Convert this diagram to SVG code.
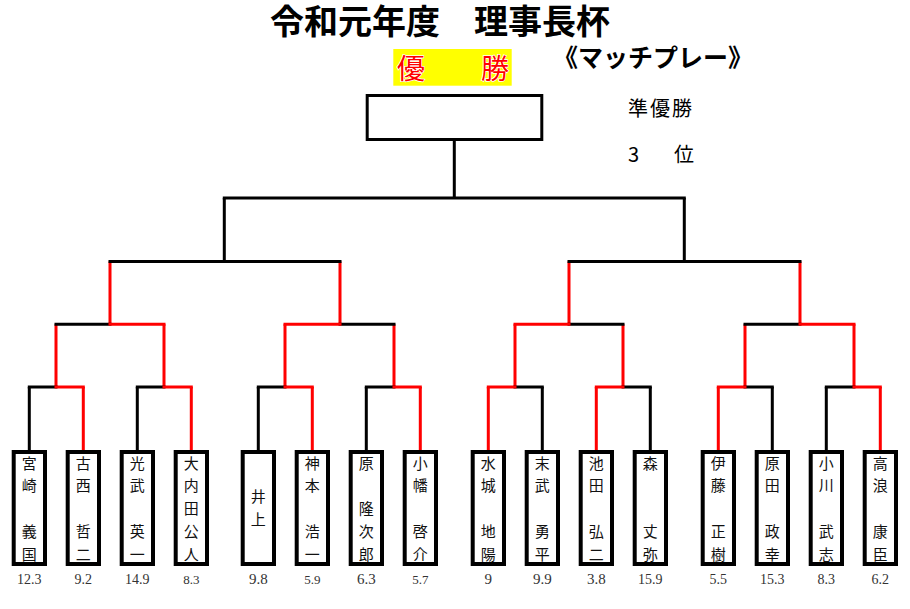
<svg xmlns="http://www.w3.org/2000/svg" width="910" height="609" viewBox="0 0 910 609">
<style>
.b{stroke:#000;stroke-width:3;fill:none}
.r{stroke:#f00;stroke-width:3;fill:none}
.h{stroke-linecap:square}
.pbox{fill:#fff;stroke:#000;stroke-width:4}
.name{font-family:"Noto Sans CJK JP","Noto Sans CJK SC",sans-serif;font-size:15px;text-anchor:middle;fill:#111}
.sc{font-family:"Liberation Serif",serif;font-size:14px;text-anchor:middle;fill:#333}
.sm{font-size:13px}
.lg{font-size:15px}
.jp{font-family:"Noto Sans CJK JP","Noto Sans CJK SC",sans-serif}
</style>
<rect width="910" height="609" fill="#fff"/>
<g id="title">
<text class="jp" x="270" y="33.5" font-size="34" font-weight="bold" fill="#000">令和元年度　理事長杯</text>
<text class="jp" x="653" y="66.5" font-size="25" font-weight="bold" text-anchor="middle" fill="#000">《マッチプレー》</text>
</g>
<g id="champion-label">
<rect x="393.3" y="49" width="118.4" height="36.7" fill="#ff0"/>
<text class="jp" x="397" y="79" font-size="28" fill="#f00" stroke="#fff" stroke-width="1.5" paint-order="stroke">優　　勝</text>
</g>
<g id="champion">
<rect x="367.2" y="95.5" width="174.6" height="44" fill="#fff" stroke="#000" stroke-width="3"/>
</g>
<g id="runner-up">
<text class="jp" x="628" y="116" font-size="20" letter-spacing="2" fill="#000">準優勝</text>
</g>
<g id="third">
<text class="jp" x="628" y="161.5" font-size="20" fill="#000">3<tspan letter-spacing="-2.6">　　</tspan>位</text>
</g>
<g id="connectors">
<path class="b" d="M454.3 141V198M224.3 198V261.5M684.3 198V261.5"/>
<path class="r" d="M110 261.5V324.3M340 261.5V324.3M569 261.5V324.3M800 261.5V324.3"/>
<path class="r" d="M56 324.3V387M164 324.3V387M285 324.3V387M394 324.3V387M515 324.3V387M623 324.3V387M745 324.3V387M854 324.3V387"/>
<path class="b" d="M29.3 387V450M137.3 387V450M258.3 387V450M366.3 387V450M542.3 387V450M650.3 387V450M772.3 387V450M826.3 387V450"/>
<path class="r" d="M83.3 387V450M191.3 387V450M312.3 387V450M420.3 387V450M488.3 387V450M596.3 387V450M718.3 387V450M880.3 387V450"/>
<path class="b h" d="M224.3 198H684.3"/>
<path class="b h" d="M110 261.5H340M569 261.5H800"/>
<path class="b h" d="M56 324.3H110M340 324.3H394M569 324.3H623M745 324.3H800"/>
<path class="r h" d="M110 324.3H164M285 324.3H340M515 324.3H569M800 324.3H854"/>
<path class="b h" d="M29.3 387H56M137.3 387H164M258.3 387H285M366.3 387H394M515 387H542.3M623 387H650.3M745 387H772.3M826.3 387H854"/>
<path class="r h" d="M56 387H83.3M164 387H191.3M285 387H312.3M394 387H420.3M488.3 387H515M596.3 387H623M718.3 387H745M854 387H880.3"/>
</g>
<g id="p1"><rect class="pbox" x="13.7" y="452" width="31.3" height="112"/><text class="name"><tspan x="29.3" y="468.5">宮</tspan><tspan x="29.3" y="491.4">崎</tspan><tspan x="29.3" y="514.2">　</tspan><tspan x="29.3" y="537">義</tspan><tspan x="29.3" y="559.9">国</tspan></text><text class="sc" x="29.3" y="584">12.3</text></g>
<g id="p2"><rect class="pbox" x="67.7" y="452" width="31.3" height="112"/><text class="name"><tspan x="83.3" y="468.5">古</tspan><tspan x="83.3" y="491.4">西</tspan><tspan x="83.3" y="514.2">　</tspan><tspan x="83.3" y="537">哲</tspan><tspan x="83.3" y="559.9">二</tspan></text><text class="sc" x="83.3" y="584">9.2</text></g>
<g id="p3"><rect class="pbox" x="121.7" y="452" width="31.3" height="112"/><text class="name"><tspan x="137.3" y="468.5">光</tspan><tspan x="137.3" y="491.4">武</tspan><tspan x="137.3" y="514.2">　</tspan><tspan x="137.3" y="537">英</tspan><tspan x="137.3" y="559.9">一</tspan></text><text class="sc" x="137.3" y="584">14.9</text></g>
<g id="p4"><rect class="pbox" x="175.7" y="452" width="31.3" height="112"/><text class="name"><tspan x="191.3" y="468.5">大</tspan><tspan x="191.3" y="491.4">内</tspan><tspan x="191.3" y="514.2">田</tspan><tspan x="191.3" y="537">公</tspan><tspan x="191.3" y="559.9">人</tspan></text><text class="sc sm" x="191.3" y="584">8.3</text></g>
<g id="p5"><rect class="pbox" x="242.7" y="452" width="31.3" height="112"/><text class="name"><tspan x="258.3" y="502.4">井</tspan><tspan x="258.3" y="524.9">上</tspan></text><text class="sc lg" x="258.3" y="584">9.8</text></g>
<g id="p6"><rect class="pbox" x="296.7" y="452" width="31.3" height="112"/><text class="name"><tspan x="312.3" y="468.5">神</tspan><tspan x="312.3" y="491.4">本</tspan><tspan x="312.3" y="514.2">　</tspan><tspan x="312.3" y="537">浩</tspan><tspan x="312.3" y="559.9">一</tspan></text><text class="sc sm" x="312.3" y="584">5.9</text></g>
<g id="p7"><rect class="pbox" x="350.7" y="452" width="31.3" height="112"/><text class="name"><tspan x="366.3" y="468.5">原</tspan><tspan x="366.3" y="491.4">　</tspan><tspan x="366.3" y="514.2">隆</tspan><tspan x="366.3" y="537">次</tspan><tspan x="366.3" y="559.9">郎</tspan></text><text class="sc lg" x="366.3" y="584">6.3</text></g>
<g id="p8"><rect class="pbox" x="404.7" y="452" width="31.3" height="112"/><text class="name"><tspan x="420.3" y="468.5">小</tspan><tspan x="420.3" y="491.4">幡</tspan><tspan x="420.3" y="514.2">　</tspan><tspan x="420.3" y="537">啓</tspan><tspan x="420.3" y="559.9">介</tspan></text><text class="sc sm" x="420.3" y="584">5.7</text></g>
<g id="p9"><rect class="pbox" x="472.7" y="452" width="31.3" height="112"/><text class="name"><tspan x="488.3" y="468.5">水</tspan><tspan x="488.3" y="491.4">城</tspan><tspan x="488.3" y="514.2">　</tspan><tspan x="488.3" y="537">地</tspan><tspan x="488.3" y="559.9">陽</tspan></text><text class="sc lg" x="488.3" y="584">9</text></g>
<g id="p10"><rect class="pbox" x="526.7" y="452" width="31.3" height="112"/><text class="name"><tspan x="542.3" y="468.5">末</tspan><tspan x="542.3" y="491.4">武</tspan><tspan x="542.3" y="514.2">　</tspan><tspan x="542.3" y="537">勇</tspan><tspan x="542.3" y="559.9">平</tspan></text><text class="sc lg" x="542.3" y="584">9.9</text></g>
<g id="p11"><rect class="pbox" x="580.7" y="452" width="31.3" height="112"/><text class="name"><tspan x="596.3" y="468.5">池</tspan><tspan x="596.3" y="491.4">田</tspan><tspan x="596.3" y="514.2">　</tspan><tspan x="596.3" y="537">弘</tspan><tspan x="596.3" y="559.9">二</tspan></text><text class="sc lg" x="596.3" y="584">3.8</text></g>
<g id="p12"><rect class="pbox" x="634.7" y="452" width="31.3" height="112"/><text class="name"><tspan x="650.3" y="468.5">森</tspan><tspan x="650.3" y="491.4">　</tspan><tspan x="650.3" y="514.2">　</tspan><tspan x="650.3" y="537">丈</tspan><tspan x="650.3" y="559.9">弥</tspan></text><text class="sc" x="650.3" y="584">15.9</text></g>
<g id="p13"><rect class="pbox" x="702.7" y="452" width="31.3" height="112"/><text class="name"><tspan x="718.3" y="468.5">伊</tspan><tspan x="718.3" y="491.4">藤</tspan><tspan x="718.3" y="514.2">　</tspan><tspan x="718.3" y="537">正</tspan><tspan x="718.3" y="559.9">樹</tspan></text><text class="sc" x="718.3" y="584">5.5</text></g>
<g id="p14"><rect class="pbox" x="756.7" y="452" width="31.3" height="112"/><text class="name"><tspan x="772.3" y="468.5">原</tspan><tspan x="772.3" y="491.4">田</tspan><tspan x="772.3" y="514.2">　</tspan><tspan x="772.3" y="537">政</tspan><tspan x="772.3" y="559.9">幸</tspan></text><text class="sc" x="772.3" y="584">15.3</text></g>
<g id="p15"><rect class="pbox" x="810.7" y="452" width="31.3" height="112"/><text class="name"><tspan x="826.3" y="468.5">小</tspan><tspan x="826.3" y="491.4">川</tspan><tspan x="826.3" y="514.2">　</tspan><tspan x="826.3" y="537">武</tspan><tspan x="826.3" y="559.9">志</tspan></text><text class="sc" x="826.3" y="584">8.3</text></g>
<g id="p16"><rect class="pbox" x="864.7" y="452" width="31.3" height="112"/><text class="name"><tspan x="880.3" y="468.5">高</tspan><tspan x="880.3" y="491.4">浪</tspan><tspan x="880.3" y="514.2">　</tspan><tspan x="880.3" y="537">康</tspan><tspan x="880.3" y="559.9">臣</tspan></text><text class="sc" x="880.3" y="584">6.2</text></g>
</svg>
